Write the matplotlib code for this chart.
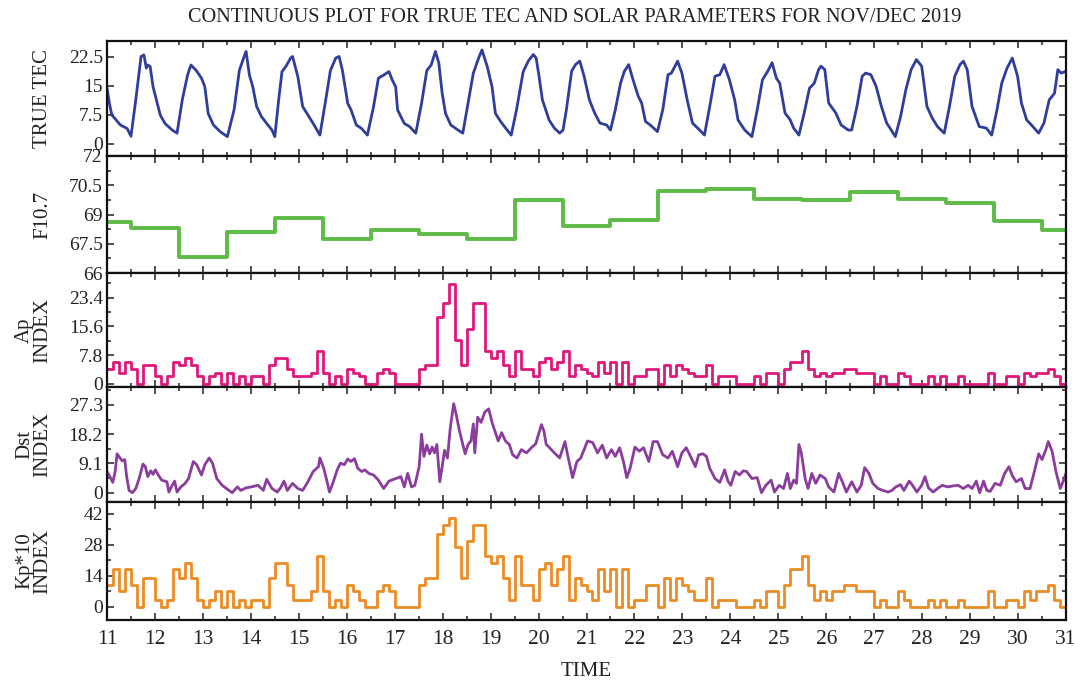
import numpy as np
import matplotlib.pyplot as plt
from matplotlib.ticker import MultipleLocator

plt.rcParams['font.family'] = ['Liberation Serif', 'DejaVu Serif']

# ---- TEC (hourly-ish samples, day of month) ----
tec_time = [
    11.00, 11.05, 11.10, 11.28, 11.42, 11.50, 11.60, 11.71, 11.77, 11.82, 11.85, 11.90, 11.96,
    12.03, 12.11, 12.21, 12.36, 12.46, 12.57, 12.68, 12.75, 12.86, 12.97,
    13.04, 13.11, 13.22, 13.36, 13.51, 13.65, 13.76, 13.86, 13.90, 13.97,
    14.04, 14.12, 14.22, 14.33, 14.44, 14.50, 14.58, 14.65, 14.73, 14.83, 14.87, 14.98,
    15.08, 15.19, 15.30, 15.44, 15.55, 15.66, 15.77, 15.84, 15.91,
    16.02, 16.09, 16.20, 16.31, 16.43, 16.56, 16.66, 16.77, 16.88, 16.95,
    17.02, 17.06, 17.20, 17.31, 17.44, 17.56, 17.67, 17.76, 17.85, 17.92, 17.99,
    18.06, 18.17, 18.32, 18.42, 18.53, 18.64, 18.75, 18.82, 18.93,
    19.03, 19.10, 19.21, 19.32, 19.43, 19.54, 19.68, 19.79, 19.89, 19.95,
    20.01, 20.08, 20.22, 20.33, 20.44, 20.51, 20.58, 20.69, 20.77, 20.86, 20.95,
    21.06, 21.17, 21.28, 21.42, 21.50, 21.60, 21.71, 21.79, 21.88, 21.97,
    22.08, 22.15, 22.23, 22.33, 22.48, 22.59, 22.70, 22.77, 22.90, 22.99,
    23.10, 23.21, 23.36, 23.46, 23.57, 23.68, 23.78, 23.87, 23.98,
    24.09, 24.16, 24.30, 24.45, 24.56, 24.67, 24.78, 24.87, 24.96,
    25.03, 25.14, 25.25, 25.32, 25.43, 25.54, 25.65, 25.75, 25.84, 25.89, 25.97,
    26.05, 26.20, 26.31, 26.46, 26.53, 26.64, 26.75, 26.82, 26.93,
    27.04, 27.15, 27.26, 27.33, 27.44, 27.55, 27.66, 27.77, 27.88, 27.99,
    28.10, 28.21, 28.32, 28.46, 28.57, 28.68, 28.79, 28.86, 28.94,
    29.04, 29.19, 29.34, 29.45, 29.56, 29.66, 29.77, 29.88, 29.99,
    30.07, 30.18, 30.28, 30.43, 30.54, 30.65, 30.76, 30.83, 30.90, 31.00,
]
tec_value = [
    14.4, 10.5, 7.5, 4.9, 4.0, 2.0, 11.4, 22.6, 23.0, 19.6, 20.4, 20.0, 14.8,
    11.4, 7.5, 5.3, 3.6, 2.8, 11.4, 17.8, 20.4, 19.0, 17.0,
    14.8, 7.9, 4.9, 3.2, 1.9, 8.8, 19.0, 22.6, 23.9, 17.8,
    14.8, 9.7, 7.1, 5.3, 3.6, 1.9, 11.4, 18.7, 20.0, 22.2, 22.6, 17.4,
    9.7, 7.5, 5.3, 2.3, 10.5, 19.0, 22.2, 22.6, 19.0,
    10.5, 8.8, 4.9, 4.0, 2.3, 9.7, 17.0, 17.8, 18.7, 16.5,
    14.8, 8.8, 5.3, 4.5, 2.8, 10.5, 19.0, 20.4, 23.9, 20.9, 13.1,
    7.9, 4.9, 3.6, 2.8, 10.5, 18.3, 22.2, 24.3, 20.0,
    14.8, 7.9, 5.8, 4.0, 2.3, 8.8, 18.7, 21.5, 23.1, 22.2,
    17.5, 11.4, 6.2, 4.1, 2.8, 3.6, 8.8, 18.8, 20.5, 21.4, 17.5,
    11.4, 8.0, 5.4, 4.9, 3.6, 8.8, 15.7, 18.8, 20.5, 16.6,
    12.3, 10.6, 5.8, 4.9, 3.2, 8.8, 17.9, 18.3, 21.4, 18.3,
    11.4, 5.4, 3.6, 2.3, 9.7, 17.5, 17.9, 20.5, 16.6,
    11.4, 6.2, 3.6, 1.9, 8.8, 16.6, 18.8, 21.0, 17.0,
    15.7, 8.0, 6.2, 4.1, 2.3, 8.0, 14.4, 15.7, 19.2, 20.1, 19.2,
    10.6, 8.0, 4.9, 3.6, 3.6, 9.7, 17.5, 18.3, 17.9,
    14.9, 9.7, 5.4, 4.1, 1.9, 7.1, 14.0, 19.2, 21.8, 20.1,
    9.7, 6.7, 4.5, 2.8, 9.7, 17.5, 20.5, 21.4, 19.2,
    9.7, 4.5, 4.1, 2.3, 8.8, 15.7, 19.6, 22.2, 17.5,
    10.6, 6.2, 4.9, 2.8, 5.4, 11.4, 13.1, 19.2, 18.3, 18.8,
]

# ---- F10.7 (value holds from each change time to the next) ----
f107_time = [11.0, 11.5, 12.5, 13.5, 14.5, 15.5, 16.5, 17.5, 18.5, 19.5, 20.5,
             21.5, 22.5, 23.5, 24.5, 25.5, 26.5, 27.5, 28.5, 29.5, 30.5, 31.0]
f107_value = [68.62, 68.31, 66.82, 68.11, 68.83, 67.75, 68.23, 68.02, 67.75, 69.72, 68.43,
              68.71, 70.20, 70.32, 69.80, 69.72, 70.15, 69.80, 69.60, 68.66, 68.23, 68.23]

# ---- 3-hourly Kp*10 and Ap, one row per day (11 .. 30), plus last value at 31 ----
kp10 = [
    10, 17, 7, 17, 10, 0, 13, 13,
    3, 0, 3, 17, 13, 20, 13, 3,
    0, 3, 7, 0, 7, 0, 3, 0,
    3, 3, 0, 13, 20, 20, 10, 3,
    3, 3, 7, 23, 7, 0, 3, 0,
    10, 7, 3, 0, 0, 7, 10, 7,
    0, 0, 0, 0, 10, 13, 13, 33,
    37, 40, 27, 13, 30, 37, 37, 23,
    20, 23, 13, 3, 23, 10, 10, 3,
    17, 20, 10, 17, 23, 3, 13, 10,
    7, 3, 17, 7, 17, 0, 17, 0,
    3, 3, 10, 10, 0, 13, 3, 13,
    10, 7, 3, 3, 13, 0, 3, 3,
    3, 0, 0, 0, 3, 0, 7, 7,
    0, 10, 17, 17, 23, 10, 3, 7,
    3, 7, 7, 10, 10, 7, 7, 7,
    0, 3, 0, 0, 7, 3, 0, 0,
    0, 3, 0, 3, 0, 0, 3, 0,
    0, 0, 0, 7, 0, 0, 3, 3,
    0, 7, 3, 7, 7, 10, 3, 0,
    7,
]
ap = [
    4, 6, 3, 6, 4, 0, 5, 5,
    2, 0, 2, 6, 5, 7, 5, 2,
    0, 2, 3, 0, 3, 0, 2, 0,
    2, 2, 0, 5, 7, 7, 4, 2,
    2, 2, 3, 9, 3, 0, 2, 0,
    4, 3, 2, 0, 0, 3, 4, 3,
    0, 0, 0, 0, 4, 5, 5, 18,
    22, 27, 12, 5, 15, 22, 22, 9,
    7, 9, 5, 2, 9, 4, 4, 2,
    6, 7, 4, 6, 9, 2, 5, 4,
    3, 2, 6, 3, 6, 0, 6, 0,
    2, 2, 4, 4, 0, 5, 2, 5,
    4, 3, 2, 2, 5, 0, 2, 2,
    2, 0, 0, 0, 2, 0, 3, 3,
    0, 4, 6, 6, 9, 4, 2, 3,
    2, 3, 3, 4, 4, 3, 3, 3,
    0, 2, 0, 0, 3, 2, 0, 0,
    0, 2, 0, 2, 0, 0, 2, 0,
    0, 0, 0, 3, 0, 0, 2, 2,
    0, 3, 2, 3, 3, 4, 2, 0,
    3,
]
three_hourly = 11 + np.arange(len(kp10)) / 8.0

# ---- Dst (plotted as magnitude) ----
dst_time = [
    11.00, 11.06, 11.12, 11.17, 11.21, 11.27, 11.32, 11.37, 11.41, 11.46, 11.53, 11.60, 11.67,
    11.75, 11.80, 11.85, 11.91, 11.96, 12.01, 12.07, 12.14, 12.25, 12.29, 12.36, 12.41, 12.46,
    12.54, 12.63, 12.70, 12.80, 12.87, 12.97, 13.04, 13.13, 13.20, 13.29, 13.40, 13.51, 13.61,
    13.72, 13.79, 13.90, 14.01, 14.15, 14.26, 14.33, 14.44, 14.55, 14.62, 14.69, 14.76, 14.87,
    14.98, 15.08, 15.19, 15.30, 15.41, 15.44, 15.52, 15.59, 15.64, 15.72, 15.80, 15.87, 15.95,
    16.02, 16.09, 16.16, 16.23, 16.31, 16.38, 16.46, 16.56, 16.66, 16.77, 16.88, 17.02, 17.13,
    17.20, 17.27, 17.35, 17.42, 17.51, 17.56, 17.61, 17.67, 17.73, 17.78, 17.83, 17.88, 17.94,
    17.99, 18.04, 18.10, 18.16, 18.23, 18.28, 18.35, 18.42, 18.47, 18.53, 18.59, 18.64, 18.67,
    18.73, 18.80, 18.88, 18.96, 19.03, 19.10, 19.16, 19.23, 19.31, 19.39, 19.46, 19.55, 19.64,
    19.75, 19.85, 19.94, 20.00, 20.06, 20.11, 20.16, 20.23, 20.33, 20.44, 20.55, 20.62, 20.71,
    20.80, 20.88, 20.95, 21.02, 21.13, 21.23, 21.33, 21.42, 21.52, 21.60, 21.69, 21.77, 21.84,
    21.91, 22.01, 22.10, 22.19, 22.30, 22.39, 22.48, 22.59, 22.70, 22.79, 22.90, 22.99, 23.08,
    23.17, 23.27, 23.34, 23.43, 23.50, 23.57, 23.68, 23.78, 23.88, 23.95, 24.01, 24.10, 24.19,
    24.27, 24.34, 24.45, 24.56, 24.65, 24.74, 24.85, 24.92, 25.02, 25.11, 25.19, 25.25, 25.32,
    25.38, 25.43, 25.48, 25.56, 25.62, 25.70, 25.78, 25.87, 25.98, 26.05, 26.16, 26.26, 26.35,
    26.42, 26.53, 26.64, 26.73, 26.80, 26.89, 26.97, 27.08, 27.18, 27.29, 27.37, 27.45, 27.55,
    27.62, 27.73, 27.80, 27.89, 27.99, 28.06, 28.13, 28.23, 28.32, 28.42, 28.53, 28.64, 28.75,
    28.86, 28.96, 29.04, 29.13, 29.20, 29.28, 29.35, 29.42, 29.52, 29.63, 29.72, 29.81, 29.88,
    29.96, 30.07, 30.15, 30.25, 30.34, 30.43, 30.50, 30.58, 30.63, 30.71, 30.79, 30.88, 30.95,
    31.00,
]
dst_value = [
    6.6, 5.0, 3.2, 6.6, 12.1, 10.8, 9.9, 10.3, 5.0, 0.7, 0.0, 1.3, 4.4,
    8.9, 8.1, 5.0, 6.8, 5.7, 7.1, 5.5, 3.9, 3.4, 0.2, 2.3, 3.6, 0.2,
    1.8, 2.9, 4.4, 9.7, 8.7, 5.5, 8.7, 10.8, 9.2, 4.4, 2.3, 1.1, 0.0,
    1.8, 0.7, 1.5, 1.8, 2.3, 0.7, 4.2, 1.3, 0.2, 1.5, 3.6, 0.7, 2.9,
    1.3, 0.7, 3.4, 6.6, 8.1, 10.8, 7.6, 3.4, 0.2, 3.4, 7.1, 9.2, 8.7,
    10.5, 9.7, 10.6, 7.6, 6.6, 7.1, 6.0, 5.5, 3.9, 1.3, 3.6, 4.4, 5.0,
    1.8, 6.0, 1.8, 2.3, 8.1, 18.2, 11.3, 14.8, 12.1, 14.2, 12.4, 15.0, 3.4,
    8.1, 13.2, 10.8, 20.3, 27.7, 24.5, 19.3, 15.0, 12.1, 15.0, 16.1, 21.4, 12.4,
    23.5, 21.9, 25.1, 26.1, 21.9, 18.7, 16.1, 18.7, 16.1, 15.0, 11.8, 10.8, 13.4,
    12.4, 14.0, 15.2, 18.2, 21.2, 19.3, 15.0, 14.0, 12.4, 10.8, 15.9, 10.8, 4.7,
    9.7, 10.8, 13.4, 16.1, 15.6, 12.4, 14.8, 10.8, 13.4, 11.3, 14.0, 9.7, 4.7,
    7.6, 14.2, 12.9, 14.0, 9.7, 15.9, 15.9, 11.8, 10.8, 12.9, 8.1, 12.4, 14.0,
    11.3, 8.1, 11.8, 12.1, 11.3, 7.6, 4.4, 3.2, 7.1, 3.6, 2.3, 6.6, 5.5,
    6.8, 6.6, 4.4, 4.7, 0.0, 2.3, 3.9, 0.2, 2.3, 1.3, 6.0, 1.3, 3.9,
    2.9, 15.0, 12.4, 4.4, 1.3, 6.0, 2.9, 5.5, 4.4, 1.8, 0.2, 6.0, 2.9,
    0.2, 3.4, 0.2, 2.3, 7.8, 6.0, 2.9, 1.3, 0.7, 0.2, 0.7, 1.8, 2.5,
    0.7, 3.6, 2.3, 0.2, 2.3, 5.0, 1.5, 0.2, 1.3, 2.3, 1.8, 2.1, 2.3,
    1.3, 2.3, 1.3, 3.6, 0.0, 3.6, 0.7, 0.4, 2.9, 2.3, 6.0, 8.1, 5.3,
    3.4, 4.4, 1.3, 1.3, 6.6, 12.1, 10.3, 13.4, 15.9, 12.9, 6.6, 1.3, 3.9,
    6.0,
]

panel_labels = ['TRUE TEC', 'F10.7', 'Ap\nINDEX', 'Dst\nINDEX', 'Kp*10\nINDEX']
ytick_values = [[0, 7.5, 15, 22.5], [66, 67.5, 69, 70.5, 72], [0, 7.8, 15.6, 23.4],
                [0, 9.1, 18.2, 27.3], [0, 14, 28, 42]]
ytick_labels = [['0', '7.5', '15', '22.5'], ['66', '67.5', '69', '70.5', '72'],
                ['0', '7.8', '15.6', '23.4'], ['0', '9.1', '18.2', '27.3'], ['0', '14', '28', '42']]
xtick_values = list(range(11, 32))

W, H = 1076.0, 682.0
fig = plt.figure(figsize=(W / 100, H / 100), dpi=100)

x0, x1 = 107, 1066
rows = [(41, 156), (156, 273), (273, 387), (387, 502), (502, 620)]
ylims = [(-3.1, 26.6), (66, 72), (-0.9, 30.1), (-2.9, 32.9), (-5.9, 47.4)]
minors = [None, 0.75, 3.9, 4.55, 7]

axes = []
for i, (top, bot) in enumerate(rows):
    ax = fig.add_axes([x0 / W, 1 - bot / H, (x1 - x0) / W, (bot - top) / H])
    ax.set_xlim(11, 31)
    ax.set_ylim(*ylims[i])
    ax.set_xticks(xtick_values)
    ax.xaxis.set_minor_locator(MultipleLocator(0.5))
    ax.set_yticks(ytick_values[i], ytick_labels[i])
    if minors[i]:
        ax.yaxis.set_minor_locator(MultipleLocator(minors[i]))
    ax.tick_params(which='both', direction='in', top=True, right=True, width=1.1,
                   colors='#222222', labelcolor='#222222')
    ax.tick_params(which='major', length=5)
    ax.tick_params(which='minor', length=3)
    ax.tick_params(axis='y', labelsize=14, pad=3)
    ax.tick_params(axis='x', labelsize=15.5, pad=7, labelbottom=(i == len(rows) - 1))
    for sp in ax.spines.values():
        sp.set_linewidth(1.6)
        sp.set_color('#111111')
    ax.set_ylabel(panel_labels[i], fontsize=15, linespacing=0.95, color='#222222')
    ax.yaxis.set_label_coords(-0.057, 0.5)
    axes.append(ax)

axes[0].plot(tec_time, tec_value, color='#2F3E9B', lw=2.0)
axes[1].plot(f107_time, f107_value, color='#5DBB46', lw=2.8, drawstyle='steps-post')
axes[2].plot(three_hourly, ap, color='#E0177A', lw=2.0, drawstyle='steps-post')
axes[3].plot(dst_time, dst_value, color='#8A3D9C', lw=2.0)
axes[4].plot(three_hourly, kp10, color='#EE8C24', lw=2.0, drawstyle='steps-post')

fig.text(575 / W, 1 - 18 / H, 'CONTINUOUS PLOT FOR TRUE TEC AND SOLAR PARAMETERS FOR NOV/DEC 2019',
         ha='center', va='center', fontsize=14.6, color='#222222')
fig.text(586 / W, 1 - 672 / H, 'TIME', ha='center', va='center', fontsize=15, color='#222222')

fig.savefig('out.png', dpi=100)
